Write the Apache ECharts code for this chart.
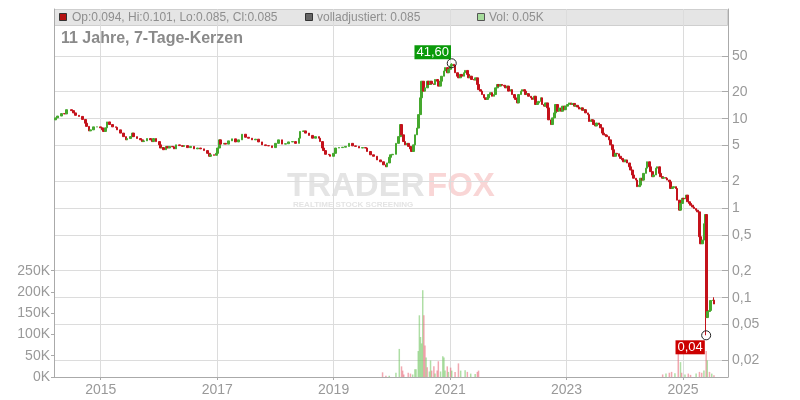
<!DOCTYPE html>
<html><head><meta charset="utf-8">
<script src="https://cdn.jsdelivr.net/npm/echarts@6/dist/echarts.min.js"></script>
<style>html,body{margin:0;padding:0;background:#fff}#c{width:800px;height:400px}</style>
</head><body><div id="c"></div>
<script>
// ---------- data ----------
const START_DATE = [2014, 2, 17];           // Monday of week 0 (year, monthIndex, day)
const FIRST_OPEN = 9.7;
// [week index since START_DATE, weekly close]
const weeklyCloses = [
 [1,10.2],[3,10.7],[6,11.4],[9,11.3],[11,12.6],[15,12.3],[17,11.6],[19,10.9],[22,10.6],[25,9.8],[28,8.9],[29,8.2],[31,7.3],[32,7.5],[35,8.1],[38,8.1],[41,7.9],[43,7.5],[44,7.2],[46,7.9],[47,9.2],[49,8.6],[52,8.1],[55,8.0],[56,7.5],[59,6.9],[62,6.3],[64,5.8],[65,6.0],[68,6.3],[70,6.9],[71,6.3],[74,6.0],[77,5.8],[79,5.55],[80,5.65],[83,6.0],[86,5.8],[88,5.55],[89,6.0],[91,5.55],[94,5.1],[95,4.7],[97,4.75],[98,4.5],[100,4.9],[101,4.7],[103,4.9],[106,4.85],[107,4.6],[109,5.1],[112,5.0],[115,4.9],[116,5.0],[119,4.75],[122,4.9],[125,4.6],[128,4.7],[131,4.6],[134,4.4],[137,4.1],[139,3.8],[140,3.95],[143,3.9],[145,4.1],[146,4.7],[148,5.8],[149,5.2],[152,5.3],
 [153,5.2],[156,5.65],[159,5.95],[162,5.5],[165,5.8],[168,6.7],[171,6.2],[174,6.05],[177,5.8],[180,5.9],[183,5.5],[186,5.1],[189,5.0],[192,4.97],[195,4.75],[198,5.3],[201,5.8],[204,5.2],[207,5.25],[210,5.5],[213,5.55],[216,5.3],[219,6.05],[220,7.2],[223,7.3],[225,6.9],[228,6.5],[231,6.05],[234,6.3],[237,6.05],[238,5.55],[240,4.7],[241,4.4],[243,4.0],[246,3.95],[247,3.8],[250,4.1],[252,4.7],[255,4.75],[258,4.8],[261,4.9],[264,5.3],[267,4.97],[270,4.9],[273,4.7],[276,4.75],[279,4.7],[280,4.3],[283,3.95],[286,3.8],[289,3.46],[292,3.3],[295,3.05],[297,2.9],[298,3.2],[300,3.7],[301,3.95],
 [303,4.0],[306,5.3],[308,6.3],[310,8.6],[311,6.6],[313,5.55],[314,5.1],[316,5.3],[317,4.9],[319,4.6],[320,4.3],[322,5.1],[323,6.6],[325,7.85],[326,11.1],[328,17.1],[329,26.2],[331,20.3],[332,22.1],[334,26.2],[335,24.1],[337,26.2],[338,24.5],[340,24.1],[341,27.4],[343,26.2],[344,23.1],[346,26.2],[347,29.8],[349,34.1],[350,37.2],[352,32.6],[353,35.6],[355,38.7],[356,40.5],[358,38.7],[359,32.6],[361,29.8],[362,28.6],[364,31.2],[365,29.8],[367,32.6],[368,34.6],[370,31.2],[371,28.6],[373,29.8],[374,27.4],[376,27.0],[377,28.6],[379,24.1],[380,21.1],[382,20.3],[383,18.6],[385,17.1],[386,16.4],[388,17.1],[389,18.6],[391,19.5],[392,17.8],[394,18.6],[395,22.1],[397,24.1],[398,23.1],[400,24.1],[401,23.6],[403,23.1],[404,22.1],[406,23.1],[407,20.3],[409,21.1],[410,18.6],[412,17.1],[413,16.4],[415,15.0],[416,18.6],[418,20.3],[419,21.1],[421,20.3],[422,18.6],[424,19.0],[425,17.8],[427,17.1],[428,16.4],[430,17.8],[431,14.4],[433,15.0],[434,15.6],[436,17.1],[437,14.4],[439,13.8],[440,15.0],[442,13.2],[443,9.7],[445,8.6],
 [446,10.2],[448,11.6],[449,14.4],[451,12.1],[452,13.2],[454,12.1],[455,13.8],[457,12.6],[458,13.8],[460,14.4],[461,15.0],[463,14.4],[464,14.8],[466,13.8],[467,14.1],[469,13.5],[470,12.8],[472,13.2],[473,12.4],[475,12.6],[476,11.6],[478,11.1],[479,9.3],[481,9.7],[482,9.6],[483,8.6],[485,8.3],[486,8.95],[488,8.6],[489,7.9],[491,6.9],[492,6.6],[494,6.55],[495,6.3],[497,5.8],[498,5.1],[500,4.5],[501,3.8],[503,4.1],[504,4.05],[506,3.8],[507,3.6],[509,3.46],[510,3.3],[512,3.46],[513,3.2],[515,2.9],[516,2.67],[518,2.35],[519,2.16],[521,2.06],[522,1.74],[524,1.81],[525,2.16],[527,2.06],[528,2.45],[530,2.8],[531,3.3],[533,2.9],[534,2.56],[536,2.25],[537,2.35],[539,2.8],[540,2.9],[542,2.45],[543,2.25],[545,2.16],[546,2.2],[548,2.16],[549,2.06],[551,1.97],[552,1.66],[554,1.7],[555,1.74],[557,1.66],[558,1.23],[560,0.95],[561,1.13],[563,1.29],[564,1.27],[566,1.40],[567,1.18],[569,1.13],[570,1.08],[572,1.03],[573,0.99],[575,0.95],[576,0.91],[578,0.48],[579,0.40],[581,0.44],[582,0.67],[583,0.85],[584,0.06],[585,0.07],[587,0.072],[588,0.093],[590,0.094],[591,0.085]
];
const highOverrides = [[356, 41.6], [591, 0.101]];
const lowOverrides = [[584, 0.038]];
// [week, volume in K, direction u/d]
const weeklyVolumes = [
 [294,11,'d'],[297,3,'d'],[300,3,'u'],[306,10,'u'],[309,66,'u'],[311,25,'d'],[312,15,'d'],[313,6,'d'],[317,10,'d'],[319,8,'d'],[321,6,'u'],[323,18,'u'],[324,18,'u'],[326,61,'u'],[327,145,'u'],[328,94,'u'],[329,79,'u'],[330,204,'u'],[331,145,'d'],[332,74,'d'],[333,46,'u'],[334,23,'d'],[336,13,'u'],[337,39,'u'],[338,15,'d'],[340,25,'d'],[341,8,'u'],[343,15,'d'],[344,37,'d'],[346,13,'u'],[348,49,'u'],[349,46,'u'],[350,15,'u'],[352,25,'d'],[353,12,'u'],[355,22,'d'],[356,15,'u'],[359,12,'d'],[362,32,'d'],[364,15,'u'],[368,16,'u'],[370,12,'d'],[373,8,'u'],[377,7,'u'],[379,12,'d'],[380,15,'d'],
 [545,6,'d'],[548,8,'u'],[551,10,'d'],[553,12,'d'],[556,9,'u'],[559,55,'d'],[561,35,'u'],[562,10,'d'],[565,6,'u'],[568,8,'d'],[570,5,'d'],[575,8,'u'],[578,12,'d'],[580,10,'d'],[582,15,'u'],[584,61,'d'],[585,39,'u'],[587,12,'d'],[589,8,'u'],[591,4,'d']
];
const yearTicks = [2015, 2017, 2019, 2021, 2023, 2025];
const priceTicks = [50,20,10,5,2,1,0.5,0.2,0.1,0.05,0.02];
const volumeTicksK = [0,50,100,150,200,250];
const X_MIN = [2014, 2, 14], X_MAX = [2025, 9, 10];
const PRICE_MIN = 0.013, PRICE_MAX = 168;
const VOLUME_MAX_K = 865;
const headerTexts = {
  ohlc: 'Op:0.094, Hi:0.101, Lo:0.085, Cl:0.085',
  adj: 'volladjustiert: 0.085',
  vol: 'Vol: 0.05K',
  title: '11 Jahre, 7-Tage-Kerzen'
};

// ---------- build ----------
const FONT = '"Liberation Sans", Arial, Helvetica, sans-serif';
const UP = '#45a82e', DOWN = '#c4121b';
const lg = v => Math.log10(v);
const ts = a => new Date(a[0], a[1], a[2]).getTime();
function weekDate(w) {
  return new Date(START_DATE[0], START_DATE[1], START_DATE[2] + 7 * w).getTime();
}
const yearTickTs = yearTicks.map(y => new Date(y, 0, 1).getTime());
const hiMap = new Map(highOverrides), loMap = new Map(lowOverrides);
const candleData = weeklyCloses.map((p, i) => {
  const o = i === 0 ? FIRST_OPEN : weeklyCloses[i - 1][1];
  const c = p[1];
  const h = hiMap.has(p[0]) ? hiMap.get(p[0]) : Math.max(o, c);
  const l = loMap.has(p[0]) ? loMap.get(p[0]) : Math.min(o, c);
  return [weekDate(p[0]), lg(o), lg(c), lg(l), lg(h)];
});
const volumeData = weeklyVolumes.map(v => ({
  value: [weekDate(v[0]), v[1] * 1000],
  itemStyle: { color: v[2] === 'u' ? 'rgba(120,200,105,0.6)' : 'rgba(232,110,125,0.6)' }
}));
const fmtPrice = v => String(parseFloat(Math.pow(10, v).toPrecision(2))).replace('.', ',');
const deFix2 = v => v.toFixed(2).replace('.', ',');

const chart = echarts.init(document.getElementById('c'), null, { renderer: 'canvas' });
chart.setOption({
  animation: false,
  textStyle: { fontFamily: FONT },
  grid: { left: 54, right: 72, top: 9, bottom: 23, containLabel: false, outerBoundsMode: 'none' },
  xAxis: {
    type: 'value', min: ts(X_MIN), max: ts(X_MAX),
    axisLine: { onZero: false, lineStyle: { color: '#aaa' } },
    axisTick: { show: true, length: 3, customValues: yearTickTs, lineStyle: { color: '#aaa' } },
    axisLabel: { customValues: yearTickTs, formatter: v => String(new Date(v).getFullYear()),
                 color: '#999', fontSize: 14, margin: 6, fontFamily: FONT },
    splitLine: { show: true, lineStyle: { color: '#dcdcdc', width: 1 } }
  },
  yAxis: [
    {
      type: 'value', position: 'right', min: lg(PRICE_MIN), max: lg(PRICE_MAX),
      axisLine: { show: true, onZero: false, lineStyle: { color: '#aaa' } },
      axisTick: { show: true, inside: true, length: 6, customValues: priceTicks.map(lg), lineStyle: { color: '#aaa' } },
      axisLabel: { customValues: priceTicks.map(lg), formatter: fmtPrice, color: '#999', fontSize: 14, margin: 4, fontFamily: FONT },
      splitLine: { show: true, lineStyle: { color: '#dcdcdc', width: 1 } }
    },
    {
      type: 'value', position: 'left', min: 0, max: VOLUME_MAX_K * 1000,
      axisLine: { show: true, onZero: false, lineStyle: { color: '#aaa' } },
      axisTick: { show: true, length: 3, customValues: volumeTicksK.map(k => k * 1000), lineStyle: { color: '#aaa' } },
      axisLabel: { customValues: volumeTicksK.map(k => k * 1000), formatter: v => (v / 1000) + 'K',
                   color: '#999', fontSize: 14, margin: 4, fontFamily: FONT },
      splitLine: { show: false }
    }
  ],
  graphic: [
    { type: 'rect', z: -10, shape: { x: 54.5, y: 9.5, width: 673, height: 16 }, style: { fill: '#e5e5e5', stroke: '#cfcfcf', lineWidth: 1 } },
    { type: 'rect', z: 10, shape: { x: 59.5, y: 13.5, width: 7, height: 7 }, style: { fill: '#b51212', stroke: '#333', lineWidth: 1 } },
    { type: 'text', z: 10, x: 72, y: 17.5, style: { text: headerTexts.ohlc, font: '12px ' + FONT, fill: '#8e8e8e', verticalAlign: 'middle' } },
    { type: 'rect', z: 10, shape: { x: 305.5, y: 13.5, width: 7, height: 7 }, style: { fill: '#666', stroke: '#333', lineWidth: 1 } },
    { type: 'text', z: 10, x: 317, y: 17.5, style: { text: headerTexts.adj, font: '12px ' + FONT, fill: '#8e8e8e', verticalAlign: 'middle' } },
    { type: 'rect', z: 10, shape: { x: 477.5, y: 13.5, width: 7, height: 7 }, style: { fill: '#a6dc9c', stroke: '#555', lineWidth: 1 } },
    { type: 'text', z: 10, x: 489, y: 17.5, style: { text: headerTexts.vol, font: '12px ' + FONT, fill: '#8e8e8e', verticalAlign: 'middle' } },
    { type: 'text', z: 10, x: 61, y: 38.5, style: { text: headerTexts.title, font: 'bold 16px ' + FONT, fill: '#8a8a8a', verticalAlign: 'middle' } },
    // watermark
    { type: 'text', z: -5, x: 287, y: 187, style: { text: 'TRADER', font: 'bold 33px ' + FONT, fill: '#e4e4e4', verticalAlign: 'middle' } },
    { type: 'text', z: -5, x: 427, y: 187, style: { text: 'FOX', font: 'bold 33px ' + FONT, fill: '#f9d6d6', verticalAlign: 'middle' } },
    { type: 'text', z: -5, x: 293, y: 205, style: { text: 'REALTIME STOCK SCREENING', font: 'bold 8px ' + FONT, fill: '#e4e4e4', verticalAlign: 'middle' } }
  ],
  series: [
    {
      type: 'bar', xAxisIndex: 0, yAxisIndex: 1, data: volumeData, barWidth: 1.5, z: 1
    },
    {
      type: 'candlestick', xAxisIndex: 0, yAxisIndex: 0, data: candleData,
      encode: { x: 0, y: [1, 2, 3, 4] }, barWidth: 2.2, z: 3,
      itemStyle: { color: UP, color0: DOWN, borderColor: UP, borderColor0: DOWN, borderWidth: 1 },
      markPoint: {
        silent: true,
        data: [
          { coord: [weekDate(highOverrides[0][0]), lg(highOverrides[0][1])], value: highOverrides[0][1],
            symbol: 'circle', symbolSize: 9,
            itemStyle: { color: 'rgba(0,0,0,0)', borderColor: '#222', borderWidth: 1 },
            label: { show: true, position: 'inside', offset: [-19, -11], formatter: p => deFix2(p.value),
                     backgroundColor: '#0a9a0a', color: '#fff', fontSize: 13, padding: [1, 2, 0, 2], fontFamily: FONT } },
          { coord: [weekDate(lowOverrides[0][0]), lg(lowOverrides[0][1])], value: lowOverrides[0][1],
            symbol: 'circle', symbolSize: 9,
            itemStyle: { color: 'rgba(0,0,0,0)', borderColor: '#222', borderWidth: 1 },
            label: { show: true, position: 'inside', offset: [-16, 12], formatter: p => deFix2(p.value),
                     backgroundColor: '#cc0000', color: '#fff', fontSize: 13, padding: [1, 2, 0, 2], fontFamily: FONT } }
        ]
      }
    }
  ]
});
</script></body></html>
